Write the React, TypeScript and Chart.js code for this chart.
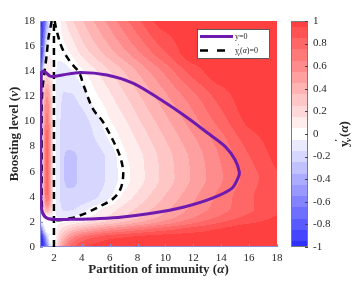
import React, { useEffect, useRef } from 'react';
import { Chart, registerables } from 'chart.js';

Chart.register(...registerables);

// ---------- data ----------
const X_TICKS = [2, 4, 6, 8, 10, 12, 14, 16, 18];
const Y_TICKS = [0, 2, 4, 6, 8, 10, 12, 14, 16, 18];
const CB_TICKS = [-1, -0.8, -0.6, -0.4, -0.2, 0, 0.2, 0.4, 0.6, 0.8, 1];

// field grid: partition of immunity (alpha) columns, boosting level (nu) rows
const ALPHA_GRID = [1, 1.12, 1.3, 1.5, 1.75, 2, 2.3, 2.7, 3.2, 4, 5, 6, 7, 8, 10, 12, 14, 16, 18];
const NU_GRID = [0, 0.7, 1.4, 2, 2.4, 3, 4, 5.5, 7, 8.5, 10, 12, 14, 15.5, 18];
// y'_nu(alpha) in tenths, one row per NU_GRID entry
const Z_NU0 = [-10, -10, -9, -6, -1.2, 0, 3, 6, 8, 9.5, 10, 10, 10, 10, 10, 10, 10, 10, 10];
const Z_NU07 = [-10, -10, -7, -3, 0, 0, 2, 4, 6, 7.8, 8.8, 9.4, 9.6, 9.8, 10, 10, 10, 10, 10];
const Z_NU14 = [-10, -6, -1.5, 0, 0, 0, 1, 2, 3, 4.2, 5.2, 6, 6.6, 7.2, 8.2, 9, 9.6, 10, 10];
const Z_NU2 = [-5, -0.5, 0, 0, 0, 0, 0.2, 0.4, 0.7, 1.3, 2.1, 2.8, 3.5, 4.3, 5.8, 7.2, 8.4, 9.3, 9.8];
const Z_NU24 = [-0.3, 0, 0.6, 1, 0.8, 0, -0.6, -0.7, -0.5, 0.1, 0.9, 1.7, 2.5, 3.3, 4.9, 6.4, 7.7, 8.8, 9.6];
const Z_NU3 = [-0.3, 0, 3, 4.5, 3, 0, -0.9, -1.6, -1.6, -1, 0.1, 1, 1.9, 2.7, 4.3, 5.8, 7.1, 8.3, 9.3];
const Z_NU4 = [-0.3, 0, 5, 7.5, 5, 0, -0.9, -2.2, -2.15, -2.1, -1.6, -0.6, 0.8, 1.8, 3.6, 5.3, 6.9, 8.3, 9.4];
const Z_NU55 = [-0.3, 0, 5.5, 8, 5, 0, -0.9, -2.45, -2.75, -2.3, -2, -1.2, 0, 1, 2.9, 4.7, 6.4, 8, 9.4];
const Z_NU7 = [-0.3, 0, 5.5, 8, 5, 0, -0.9, -2.45, -2.75, -2.3, -2, -1.2, 0.2, 1.1, 3, 4.8, 6.6, 8.4, 9.8];
const Z_NU85 = [-0.3, 0, 5.5, 8, 5, 0, -0.9, -2.3, -2.2, -2.1, -1.5, -0.4, 0.7, 1.6, 3.5, 5.3, 7.1, 9, 10];
const Z_NU10 = [-0.3, 0, 5, 7, 4.5, 0, -0.9, -2.1, -2.2, -1.9, -1, 0.4, 1.3, 2.3, 4.2, 6.1, 8, 9.7, 10];
const Z_NU12 = [-3, 0, 4, 5.5, 3.5, 0, -0.8, -1.6, -1.6, -1, 0.3, 1.3, 2.3, 3.3, 5.3, 7.2, 9, 10, 10];
const Z_NU14B = [-10, -5, 0, 1.5, 1.2, 0, -0.7, -0.9, -0.6, 0.3, 1.4, 2.5, 3.5, 4.6, 6.8, 9, 10, 10, 10];
const Z_NU155 = [-10, -9, -4, 0, 0.4, 0, -0.3, 0.05, 0.6, 1.8, 3, 4.1, 5.2, 6.3, 8.5, 10, 10, 10, 10];
const Z_NU18 = [-10, -9.5, -8, -4, -1, 0, 0.2, 1.2, 2.2, 3.4, 4.7, 5.9, 7.1, 8.3, 10, 10, 10, 10, 10];
const Z_ROWS = [Z_NU0, Z_NU07, Z_NU14, Z_NU2, Z_NU24, Z_NU3, Z_NU4, Z_NU55, Z_NU7, Z_NU85, Z_NU10, Z_NU12, Z_NU14B, Z_NU155, Z_NU18];

// y = 0 curve
const PURPLE_A = [1.1, 1.36, 1.72, 2.1, 2.6, 3.9, 5.8, 7.7, 9.7, 11.5, 13.0, 14.29, 15.0, 15.29, 15.24, 14.76, 13.32, 11.41, 9.0, 6.6, 4.5, 3.0, 2.1, 1.6, 1.3, 1.12, 1.07, 1.06, 1.06, 1.08, 1.1];
const PURPLE_N = [14.0, 13.96, 13.6, 13.6, 13.7, 13.9, 13.7, 13.03, 11.7, 10.35, 9.1, 8.0, 6.93, 6.0, 5.6, 4.67, 3.87, 3.21, 2.68, 2.35, 2.23, 2.2, 2.2, 2.25, 2.45, 3.0, 4.0, 6.0, 10.0, 12.5, 14.0];
// y'_nu(alpha) = 0 curves
const DASH_V_A = [2, 2];
const DASH_V_N = [0, 18];
const DASH_LEFT_A = [1.84, 1.6, 1.48, 1.31, 1.17, 1.12, 1.12, 1.13, 1.2, 1.4, 1.7, 2.0];
const DASH_LEFT_N = [18, 16.6, 15.3, 13.85, 12.5, 11, 6, 3.5, 2.75, 2.38, 2.22, 2.15];
const DASH_LOOP_A = [2.05, 2.2, 2.6, 3.2, 3.8, 4.15, 4.8, 5.5, 6.0, 6.45, 6.8, 6.97, 6.8, 6.3, 5.4, 4.5, 3.7, 3.0, 2.5, 2.0];
const DASH_LOOP_N = [18, 17.2, 15.8, 14.7, 13.9, 12.8, 11.0, 10.0, 9.0, 8.0, 7.0, 5.9, 4.7, 3.9, 3.3, 2.8, 2.45, 2.25, 2.15, 2.12];

// ---------- style ----------
const SERIF = '"Liberation Serif", "Times New Roman", serif';
const RED = [255, 64, 64];
const BLUE = [48, 48, 255];
const PURPLE = '#6f1aaf';
const AXIS_COLOR = '#8c8cd8';
const TEXT_COLOR = '#262626';

const pts = (a: number[], n: number[]) => a.map((v, i) => ({ x: v, y: n[i] }));

// monotone (PCHIP) tangents
function pchipTangents(xs: number[], ys: number[]) {
  const n = xs.length;
  const d: number[] = [];
  for (let i = 0; i < n - 1; i++) d.push((ys[i + 1] - ys[i]) / (xs[i + 1] - xs[i]));
  const m = new Array(n).fill(0);
  m[0] = d[0];
  m[n - 1] = d[n - 2];
  for (let i = 1; i < n - 1; i++) {
    if (d[i - 1] * d[i] <= 0) m[i] = 0;
    else {
      const h0 = xs[i] - xs[i - 1], h1 = xs[i + 1] - xs[i];
      const w1 = 2 * h1 + h0, w2 = h1 + 2 * h0;
      m[i] = (w1 + w2) / (w1 / d[i - 1] + w2 / d[i]);
    }
  }
  return m;
}

function pchipEval(xs: number[], ys: number[], m: number[], x: number) {
  let i = 0;
  while (i < xs.length - 2 && x > xs[i + 1]) i++;
  const h = xs[i + 1] - xs[i];
  let t = (x - xs[i]) / h;
  t = Math.max(0, Math.min(1, t));
  const t2 = t * t, t3 = t2 * t;
  return (2 * t3 - 3 * t2 + 1) * ys[i] + (t3 - 2 * t2 + t) * h * m[i] + (-2 * t3 + 3 * t2) * ys[i + 1] + (t3 - t2) * h * m[i + 1];
}

const ROW_TANGENTS = Z_ROWS.map((r) => pchipTangents(ALPHA_GRID, r));

function bandColor(k: number): number[] {
  const t = Math.min(1, Math.abs(k) / 10);
  if (k >= 0) return [255, 255 - t * (255 - RED[1]), 255 - t * (255 - RED[2])];
  return [255 - t * (255 - BLUE[0]), 255 - t * (255 - BLUE[1]), 255];
}

type Seg = { t: string; font: string; dy?: number; dx?: number };
function drawSegs(ctx: CanvasRenderingContext2D, segs: Seg[], x: number, y: number, rot: number, center: boolean) {
  ctx.save();
  ctx.translate(x, y);
  if (rot) ctx.rotate(rot);
  ctx.textBaseline = 'middle';
  ctx.textAlign = 'left';
  ctx.fillStyle = TEXT_COLOR;
  let total = 0;
  const widths = segs.map((s) => {
    ctx.font = s.font;
    const w = ctx.measureText(s.t).width + (s.dx || 0);
    total += w;
    return w;
  });
  let cx = center ? -total / 2 : 0;
  segs.forEach((s, i) => {
    ctx.font = s.font;
    ctx.fillText(s.t, cx, s.dy || 0);
    cx += widths[i];
  });
  ctx.restore();
}

const heatmapPlugin = {
  id: 'heatmap',
  beforeDatasetsDraw(chart: any) {
    const { ctx, chartArea } = chart;
    const xs = chart.scales.x, ys = chart.scales.y;
    const left = Math.round(chartArea.left), top = Math.round(chartArea.top);
    const w = Math.round(chartArea.right) - left, h = Math.round(chartArea.bottom) - top;
    const off = document.createElement('canvas');
    off.width = w; off.height = h;
    const octx = off.getContext('2d')!;
    const img = octx.createImageData(w, h);
    const nuRows: number[] = [];
    for (let py = 0; py < h; py++) nuRows.push(ys.getValueForPixel(top + py + 0.5));
    for (let px = 0; px < w; px++) {
      const a = xs.getValueForPixel(left + px + 0.5);
      const col = Z_ROWS.map((r, j) => pchipEval(ALPHA_GRID, r, ROW_TANGENTS[j], a));
      const mcol = pchipTangents(NU_GRID, col);
      for (let py = 0; py < h; py++) {
        const z = pchipEval(NU_GRID, col, mcol, nuRows[py]);
        const k = Math.max(-10, Math.min(10, Math.round(z)));
        const c = bandColor(k);
        const o = (py * w + px) * 4;
        img.data[o] = c[0]; img.data[o + 1] = c[1]; img.data[o + 2] = c[2]; img.data[o + 3] = 255;
      }
    }
    octx.putImageData(img, 0, 0);
    ctx.save();
    ctx.drawImage(off, left, top);
    // axis lines with inward ticks
    ctx.strokeStyle = AXIS_COLOR;
    ctx.lineWidth = 1;
    ctx.beginPath();
    ctx.moveTo(left + 0.5, top);
    ctx.lineTo(left + 0.5, top + h - 0.5);
    ctx.lineTo(left + w, top + h - 0.5);
    X_TICKS.forEach((v) => {
      const px = Math.round(xs.getPixelForValue(v)) + 0.5;
      ctx.moveTo(px, top + h);
      ctx.lineTo(px, top + h - 3);
    });
    Y_TICKS.forEach((v) => {
      const py = Math.round(ys.getPixelForValue(v)) + 0.5;
      ctx.moveTo(left, py);
      ctx.lineTo(left + 3, py);
    });
    ctx.stroke();
    ctx.restore();
  },
};

const decorPlugin = {
  id: 'decor',
  afterDraw(chart: any) {
    const { ctx, chartArea } = chart;
    const cb = chart.scales.cb;
    ctx.save();
    // colorbar
    const bx = Math.round(cb.left) + 14, bw = 17;
    for (let k = -10; k <= 10; k++) {
      const lo = Math.max(-1, (k - 0.5) / 10), hi = Math.min(1, (k + 0.5) / 10);
      const y1 = Math.round(cb.getPixelForValue(hi)), y2 = Math.round(cb.getPixelForValue(lo));
      const c = bandColor(k);
      ctx.fillStyle = `rgb(${c[0]},${c[1]},${c[2]})`;
      ctx.fillRect(bx, y1, bw, y2 - y1);
    }
    const cbTop = Math.round(cb.getPixelForValue(1)), cbBot = Math.round(cb.getPixelForValue(-1));
    ctx.strokeStyle = '#7a7a7a';
    ctx.lineWidth = 1;
    ctx.strokeRect(bx + 0.5, cbTop + 0.5, bw - 1, cbBot - cbTop - 1);
    ctx.strokeStyle = '#444';
    ctx.beginPath();
    CB_TICKS.forEach((v) => {
      const py = Math.round(cb.getPixelForValue(v)) + 0.5;
      ctx.moveTo(bx + bw - 3, py);
      ctx.lineTo(bx + bw, py);
    });
    ctx.stroke();

    // legend
    const lx = 197, ly = 29, lw = 73, lh = 30;
    ctx.fillStyle = '#fff';
    ctx.fillRect(lx, ly, lw, lh);
    ctx.strokeStyle = '#333';
    ctx.lineWidth = 0.8;
    ctx.strokeRect(lx + 0.5, ly + 0.5, lw - 1, lh - 1);
    ctx.strokeStyle = PURPLE;
    ctx.lineWidth = 3;
    ctx.beginPath();
    ctx.moveTo(lx + 3, 36.5);
    ctx.lineTo(lx + 36, 36.5);
    ctx.stroke();
    ctx.strokeStyle = '#000';
    ctx.lineWidth = 2.5;
    ctx.setLineDash([8, 9]);
    ctx.beginPath();
    ctx.moveTo(lx + 3, 50.5);
    ctx.lineTo(lx + 36, 50.5);
    ctx.stroke();
    ctx.setLineDash([]);
    const lf = `8px ${SERIF}`;
    drawSegs(ctx, [{ t: 'y=0', font: lf }], lx + 38, 37, 0, false);
    drawSegs(ctx, [
      { t: 'y', font: lf, dx: -1 },
      { t: '\u2032', font: `6px ${SERIF}`, dy: -5, dx: -2 },
      { t: '\u03bd', font: `italic 6px ${SERIF}`, dy: 3 },
      { t: '(', font: lf },
      { t: '\u03b1', font: `italic ${lf}` },
      { t: ')=0', font: lf },
    ], lx + 38, 51, 0, false);

    // axis titles
    const tf = `bold 13px ${SERIF}`;
    const tfi = `italic bold 13px ${SERIF}`;
    const cx = (chartArea.left + chartArea.right) / 2;
    const cy = (chartArea.top + chartArea.bottom) / 2;
    drawSegs(ctx, [
      { t: 'Partition of immunity (', font: tf },
      { t: '\u03b1', font: tfi },
      { t: ')', font: tf },
    ], cx, 270, 0, true);
    drawSegs(ctx, [
      { t: 'Boosting level (', font: tf },
      { t: '\u03bd', font: tfi },
      { t: ')', font: tf },
    ], 15, cy, -Math.PI / 2, true);
    drawSegs(ctx, [
      { t: 'y', font: tf, dx: -1 },
      { t: '\u2032', font: `bold 9px ${SERIF}`, dy: -6, dx: -3 },
      { t: '\u03bd', font: `italic bold 9px ${SERIF}`, dy: 4, dx: 1 },
      { t: '(', font: tf },
      { t: '\u03b1', font: tfi },
      { t: ')', font: tf },
    ], 345, cy, -Math.PI / 2, true);
    ctx.restore();
  },
};

export default function App() {
  const ref = useRef<HTMLCanvasElement>(null);
  useEffect(() => {
    if (!ref.current) return;
    const tickFont = { family: SERIF, size: 11 };
    const chart = new Chart(ref.current, {
      type: 'line',
      data: {
        datasets: [
          {
            label: 'y=0',
            data: pts(PURPLE_A, PURPLE_N),
            borderColor: PURPLE,
            borderWidth: 3,
            pointRadius: 0,
            tension: 0.3,
            fill: false,
          },
          {
            label: 'dash-vertical',
            data: pts(DASH_V_A, DASH_V_N),
            borderColor: '#000',
            borderWidth: 2.5,
            borderDash: [7, 5],
            pointRadius: 0,
            tension: 0,
            fill: false,
          },
          {
            label: 'dash-left',
            data: pts(DASH_LEFT_A, DASH_LEFT_N),
            borderColor: '#000',
            borderWidth: 2.5,
            borderDash: [7, 5],
            pointRadius: 0,
            tension: 0.3,
            fill: false,
          },
          {
            label: 'dash-loop',
            data: pts(DASH_LOOP_A, DASH_LOOP_N),
            borderColor: '#000',
            borderWidth: 2.5,
            borderDash: [7, 5],
            pointRadius: 0,
            tension: 0.35,
            fill: false,
          },
        ],
      },
      options: {
        responsive: false,
        devicePixelRatio: 1,
        animation: false,
        events: [],
        layout: { padding: { top: 21, left: 0, right: 0, bottom: 0 } },
        plugins: { legend: { display: false }, tooltip: { enabled: false }, title: { display: false } },
        scales: {
          x: {
            type: 'linear',
            min: 1,
            max: 18,
            grid: { display: false, drawTicks: false },
            border: { display: false },
            afterBuildTicks: (s: any) => { s.ticks = X_TICKS.map((v) => ({ value: v })); },
            afterFit: (s: any) => { s.height = 35; },
            ticks: { font: tickFont, color: TEXT_COLOR, padding: 5, maxRotation: 0, autoSkip: false, callback: (v: any) => String(v) },
          },
          y: {
            type: 'linear',
            min: 0,
            max: 18,
            grid: { display: false, drawTicks: false },
            border: { display: false },
            afterBuildTicks: (s: any) => { s.ticks = Y_TICKS.map((v) => ({ value: v })); },
            afterFit: (s: any) => { s.width = 40; },
            ticks: { font: tickFont, color: TEXT_COLOR, padding: 5, autoSkip: false, callback: (v: any) => String(v) },
          },
          cb: {
            type: 'linear',
            axis: 'y',
            position: 'right',
            min: -1,
            max: 1,
            grid: { display: false, drawTicks: true, tickLength: 36 },
            border: { display: false },
            afterBuildTicks: (s: any) => { s.ticks = CB_TICKS.map((v) => ({ value: v })); },
            afterFit: (s: any) => { s.width = 82; },
            ticks: { font: tickFont, color: TEXT_COLOR, padding: 0, autoSkip: false, callback: (v: any) => String(v) },
          },
        },
      } as any,
      plugins: [heatmapPlugin, decorPlugin],
    });
    return () => chart.destroy();
  }, []);
  return (
    <div style={{ position: 'absolute', left: 0, top: 0, width: 359, height: 282, background: '#fff' }}>
      <canvas ref={ref} width={359} height={282} style={{ width: 359, height: 282, display: 'block' }} />
    </div>
  );
}
